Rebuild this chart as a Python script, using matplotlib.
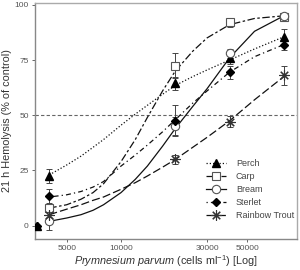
import numpy as np
import matplotlib
matplotlib.use("Agg")
import matplotlib.pyplot as plt
from matplotlib.ticker import FixedLocator, FixedFormatter, NullLocator

plt.rcParams['font.family'] = ['Liberation Sans', 'DejaVu Sans']
plt.rcParams['mathtext.fontset'] = 'custom'
plt.rcParams['mathtext.rm'] = 'Liberation Sans'
plt.rcParams['mathtext.it'] = 'Liberation Sans:italic'

# ---- data ----
conc = [3400, 4000, 20000, 40000, 80000]
perch = [0, 22.5, 64.5, 76, 85.5]
perch_err = [0, 3.2, 3, 3, 3.5]
carp = [np.nan, 8, 72.5, 92, 94.5]
carp_err = [np.nan, 5, 5.5, 2, 1.5]
bream = [np.nan, 2, 45, 78, 95]
bream_err = [np.nan, 4, 4, 2, 1]
sterlet = [0, 13.5, 47.5, 69.5, 82]
sterlet_err = [0, 3, 7, 3, 2.5]
trout = [np.nan, 5, 30, 47, 68]
trout_err = [np.nan, 3, 2, 2.5, 4.5]

# fitted curves
curve_x = [4000, 5000, 6000, 7000, 8000, 10000, 12000, 14000, 17000, 20000,
           25000, 30000, 40000, 55000, 80000]
perch_fit = [23, 27.5, 31.5, 35.5, 39, 45.5, 50.5, 54.5, 59.5, 63.5, 67.5, 70.5, 75, 80, 85.5]
carp_fit = [8, 9.5, 12, 15, 19, 29, 39, 49, 61, 70, 79, 85, 91, 93.8, 95]
bream_fit = [2, 3.5, 5, 7, 9.5, 15, 21, 27, 36, 44, 54, 62, 76, 88, 95]
sterlet_fit = [13, 14, 15.5, 17.5, 20, 27, 32, 36.5, 42.5, 48, 55.5, 61, 69.5, 76.5, 82]
trout_fit = [5, 7.5, 9.5, 11.5, 13, 16.5, 19.5, 22.5, 26.5, 30, 35.5, 40, 47.5, 57, 67.5]

labels = ["Perch", "Carp", "Bream", "Sterlet", "Rainbow Trout"]
x_ticks = [5000, 10000, 30000, 50000]
x_ticklabels = ["5000", "10000", "30000", "50000"]
y_ticks = [0, 25, 50, 75, 100]

fig = plt.figure(figsize=(3.0, 2.7), dpi=100)
ax = fig.add_axes([35/300, 1-239/270, 262/300, 236/270])

grey = "#555555"
series = [
    (perch, perch_err, perch_fit, dict(marker="^", ms=5.5, mfc="black", mec="black"), (0, (1, 1.6))),
    (carp, carp_err, carp_fit, dict(marker="s", ms=5.3, mfc="white", mec=grey, mew=0.8), (0, (6, 2, 2, 2))),
    (bream, bream_err, bream_fit, dict(marker="o", ms=6, mfc="white", mec=grey, mew=0.8), "solid"),
    (sterlet, sterlet_err, sterlet_fit, dict(marker="D", ms=4, mfc="black", mec="black"), (0, (1, 2.5, 4, 2.5))),
    (trout, trout_err, trout_fit, dict(marker=(8, 2, 0), ms=7.5, mfc="none", mec="#333333", mew=0.8), (0, (6.5, 2.5))),
]

ax.axhline(50, color="#666666", lw=0.8, ls=(0, (3, 2)), zorder=1)

handles = []
for (vals, errs, fit, mk, ls), lab in zip(series, labels):
    ax.plot(curve_x, fit, color="#111111", lw=0.9, ls=ls, zorder=2)
    ax.errorbar(conc, vals, yerr=errs, fmt="none", ecolor="#444444",
                elinewidth=0.7, capsize=2.2, capthick=0.7, zorder=3)
    ax.plot(conc, vals, ls="none", zorder=4, clip_on=True, **mk)
    h, = ax.plot([], [], color="#111111", lw=0.9, ls=ls, **mk)
    handles.append(h)

ax.set_xscale("log")
ax.set_xlim(3335, 94600)
ax.set_ylim(-6, 100.8)
ax.xaxis.set_major_locator(FixedLocator(x_ticks))
ax.xaxis.set_major_formatter(FixedFormatter(x_ticklabels))
ax.xaxis.set_minor_locator(NullLocator())
ax.set_yticks(y_ticks)

for s in ax.spines.values():
    s.set_color("#aaaaaa")
    s.set_linewidth(1.0)
ax.spines["left"].set_color("#888888")
ax.spines["bottom"].set_color("#888888")
ax.tick_params(axis="both", colors="#666666", labelcolor="#555555",
               labelsize=6, length=2.5, width=0.7, pad=2)

ax.set_ylabel("21 h Hemolysis (% of control)", fontsize=7.8, color="#333333", labelpad=2)
ax.set_xlabel(r"$\it{Prymnesium\ parvum}$ (cells ml$^{-1}$) [Log]", fontsize=7.8,
              color="#333333", labelpad=1)

leg = ax.legend(handles, labels, loc="upper left", bbox_to_anchor=(206/300, 1-159/270),
                bbox_transform=fig.transFigure, frameon=False, fontsize=6.5,
                handlelength=2.2, handletextpad=1.1, labelspacing=0.45, borderpad=0,
                borderaxespad=0)
for t in leg.get_texts():
    t.set_color("#444444")

fig.savefig("out.png", dpi=100)
